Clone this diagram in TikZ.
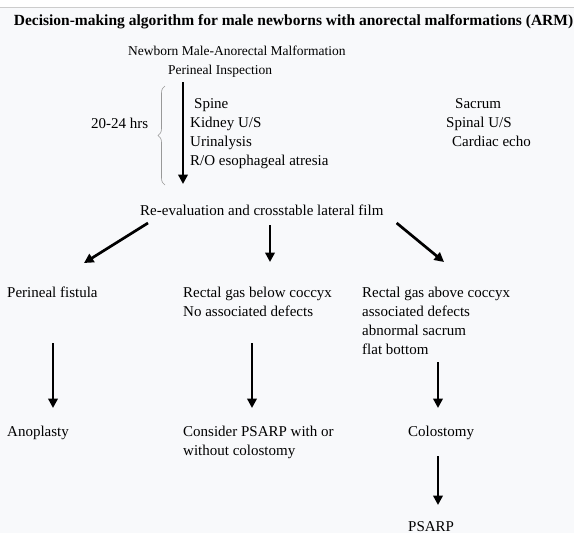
\documentclass[tikz,border=0pt]{standalone}
\usepackage{fontspec}
\setmainfont{Liberation Serif}
\usetikzlibrary{arrows.meta,decorations.pathreplacing}
\definecolor{pagebg}{HTML}{F8F9FB}
\begin{document}
\begin{tikzpicture}[x=1pt,y=-1pt,
    lbl/.style={anchor=north west, inner sep=0pt, align=left, font=\fontsize{15}{19}\selectfont},
    top/.style={lbl, font=\fontsize{13.5}{19}\selectfont},
    hdr/.style={anchor=base, inner sep=0pt, font=\fontsize{15.5}{18}\selectfont\bfseries},
    arrow/.style={line width=2.7pt, -{Triangle[length=9.5pt,width=9.5pt]}},
    bracket/.style={draw=gray!80, line width=0.6pt, decorate, decoration={brace, amplitude=7pt}}
]
\useasboundingbox (0,0) rectangle (574,533);
\fill[pagebg] (0,0) rectangle (574,533);
\fill[white] (0,0) rectangle (574,7);
\draw[gray!40] (0,7) -- (574,7);

% Title
\node[hdr] (title) at (293.5,25) {Decision-making algorithm for male newborns with anorectal malformations (ARM)};

% Initial assessment
\node[top] (newborn) at (128,46) {Newborn Male-Anorectal Malformation};
\node[top] (insp) at (168,65) {Perineal Inspection};
\node[lbl] (hrs) at (91,118) {20-24 hrs};
\node[lbl] (tests) at (190,98) {\hspace{4pt}Spine\\Kidney U/S\\Urinalysis\\R/O esophageal atresia};
\node[lbl] (tests2) at (446,98) {\hspace{9pt}Sacrum\\Spinal U/S\\\hspace{6pt}Cardiac echo};
\node[lbl] (reeval) at (140,205) {Re-evaluation and crosstable lateral film};

% Findings
\node[lbl] (fistula) at (7,287) {Perineal fistula};
\node[lbl] (below) at (183,287) {Rectal gas below coccyx\\No associated defects};
\node[lbl] (above) at (362,287) {Rectal gas above coccyx\\associated defects\\abnormal sacrum\\flat bottom};

% Treatment
\node[lbl] (anoplasty) at (7,426) {Anoplasty};
\node[lbl] (consider) at (183,426) {Consider PSARP with or\\without colostomy};
\node[lbl] (colostomy) at (408,426) {Colostomy};
\node[lbl] (psarp) at (408,521) {PSARP};

% Columns
\coordinate (mainx) at (183,0);
\coordinate (midx) at (270,0);
\coordinate (c1) at (53,0);
\coordinate (c2) at (252,0);
\coordinate (c3) at (438,0);

% Brace
\draw[bracket] (165,185) -- (165,86);

% Arrows
\draw[arrow] ([yshift=-17pt]insp.north -| mainx) -- ([yshift=21pt]reeval.north -| mainx);
\draw[arrow] ([xshift=8pt,yshift=-18pt]reeval.north west) -- ([xshift=77pt,yshift=24pt]fistula.north west);
\draw[arrow] ([yshift=-20pt]reeval.north -| midx) -- ([yshift=25pt]below.north -| midx);
\draw[arrow] ([xshift=13pt,yshift=-18pt]reeval.north east) -- ([xshift=82pt,yshift=25pt]above.north west);
\draw[arrow] ([yshift=-56pt]fistula.north -| c1) -- ([yshift=18pt]anoplasty.north -| c1);
\draw[arrow] ([yshift=-56pt]below.north -| c2) -- ([yshift=18pt]consider.north -| c2);
\draw[arrow] ([yshift=-75pt]above.north -| c3) -- ([yshift=18pt]colostomy.north -| c3);
\draw[arrow] ([yshift=-30pt]colostomy.north -| c3) -- ([yshift=16pt]psarp.north -| c3);

\end{tikzpicture}
\end{document}
